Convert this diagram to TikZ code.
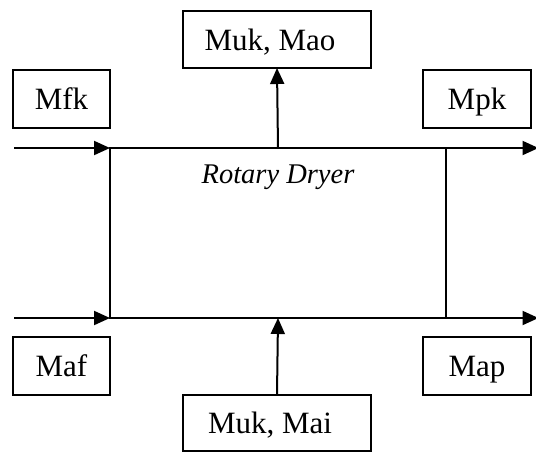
\documentclass[tikz,border=0pt]{standalone}
\usepackage{fontspec}
\setmainfont{Liberation Serif}
\usetikzlibrary{arrows.meta}
\begin{document}
\begin{tikzpicture}[x=1pt,y=-1pt,
  box/.style={draw,line width=2pt,inner sep=0pt,outer sep=0pt,font=\fontsize{31}{35}\selectfont,text height=21pt,text depth=0pt},
  dryerbox/.style={draw,line width=2pt,inner sep=0pt,outer sep=0pt,minimum width=336pt,minimum height=170pt},
  flow/.style={line width=2pt,-{Triangle[length=16pt,width=14pt]}},
  dlabel/.style={font=\fontsize{28.5}{32}\selectfont\itshape,text height=19pt,text depth=0pt,inner sep=0pt}]
\useasboundingbox (0,0) rectangle (536,451);
\node[dryerbox] (dryer) at (278,233) {};
\node[dlabel] (dlab) at (278,174) {Rotary Dryer};
\node[box,minimum width=188pt,minimum height=57pt] (top) at (277,39.5) {\hspace*{-14pt}Muk, Mao};
\node[box,minimum width=188pt,minimum height=56pt] (bot) at (277,422.5) {\hspace*{-14pt}Muk, Mai};
\node[box,minimum width=97pt,minimum height=58pt] (mfk) at (61.5,99) {Mfk};
\node[box,minimum width=108pt,minimum height=58pt] (mpk) at (477,99) {Mpk};
\node[box,minimum width=97pt,minimum height=58pt] (maf) at (61.5,366) {Maf};
\node[box,minimum width=108pt,minimum height=58pt] (map) at (477,366) {Map};
\coordinate (inT) at (14,148);
\coordinate (inB) at (14,318);
\coordinate (outT) at (538.5,148);
\coordinate (outB) at (538.5,318);
\draw[flow] (inT) -- (dryer.north west);
\draw[flow] (inB) -- (dryer.south west);
\draw[flow] (dryer.north east) -- (outT);
\draw[flow] (dryer.south east) -- (outB);
\draw[flow] (dryer.north) -- (top.south);
\draw[flow] (bot.north) -- (dryer.south);
\end{tikzpicture}
\end{document}
